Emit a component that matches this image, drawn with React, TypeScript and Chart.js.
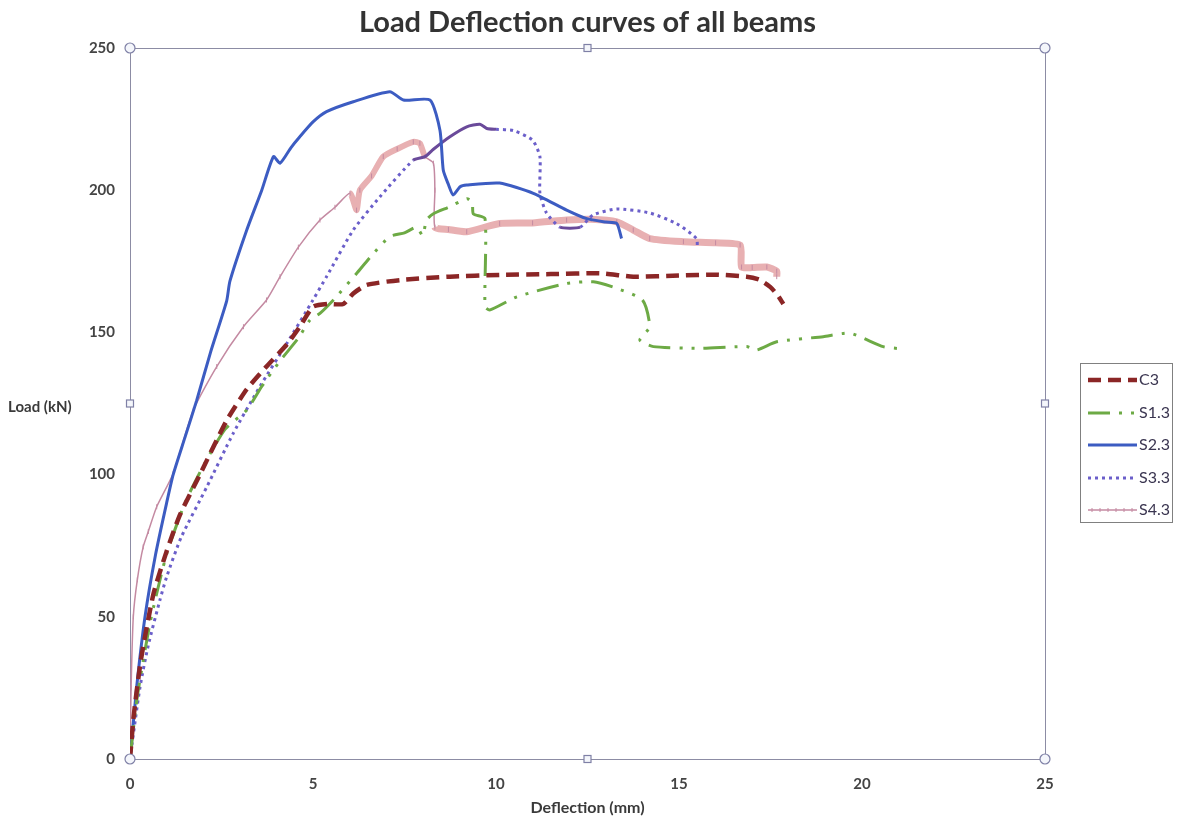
import React, { useEffect, useRef } from "react";
import { Chart, registerables } from "chart.js";

Chart.register(...registerables);

const C3_X = [0, 0.1, 0.3, 0.64, 1.0, 1.37, 1.91, 2.64, 3.19, 3.73, 4.3, 4.64, 5.0, 5.4, 5.83, 6.1, 6.47, 7.38, 8.74, 10.1, 11.5, 12.84, 13.75, 15.0, 16.0, 16.85, 17.2, 17.49, 17.7, 17.85];
const C3_Y = [0, 15, 35, 58, 73, 86, 100, 119, 130, 138, 146, 152, 159, 160, 160, 163.7, 166.7, 168.4, 169.6, 170.2, 170.5, 170.8, 169.6, 170, 170.3, 169.6, 168.5, 166, 163, 160];

const S13_X = [0, 0.2, 0.55, 1.0, 1.5, 2.0, 2.6, 3.19, 3.6, 4.1, 4.6, 4.92, 5.19, 5.6, 6.19, 6.6, 7.1, 7.5, 7.83, 8.0, 8.1, 8.29, 8.7, 9.2, 9.35, 9.38, 9.7, 9.7, 9.84, 10.57, 11.93, 12.66, 13.3, 14.0, 14.2, 13.93, 14.3, 15.57, 16.85, 17.12, 17.67, 18.94, 19.67, 20.58, 21.1];
const S13_Y = [0, 22, 48, 72, 90, 103, 116, 122.7, 131, 140, 148, 154.4, 156.7, 162, 170.7, 177, 183.7, 185, 187, 184, 189.5, 191.7, 194, 197, 196, 191.7, 190, 159, 157.9, 162.5, 167.2, 167.8, 165.5, 161.4, 152, 147.3, 145, 144.4, 145, 143.8, 146.7, 148.5, 149.7, 145, 144.2];

const S23_X = [0, 0.18, 0.41, 0.7, 1.0, 1.18, 1.5, 1.82, 2.2, 2.64, 2.73, 3.19, 3.6, 3.92, 4.1, 4.4, 4.64, 5.0, 5.37, 6.1, 7.1, 7.47, 8.2, 8.47, 8.56, 8.7, 8.83, 9.02, 9.2, 10.1, 11.02, 11.93, 12.48, 13.0, 13.3, 13.43];
const S23_Y = [0, 25, 50, 72, 90, 100, 113, 126, 143, 161, 168, 186, 200, 211.8, 209.5, 215, 218.8, 224, 227.6, 231.1, 234.6, 231.7, 231.7, 221, 207, 202, 198.3, 201.2, 201.8, 202.5, 198.9, 193, 190, 188.8, 188.3, 183];

const S33_X = [0, 0.27, 0.5, 0.82, 1.0, 1.4, 2.1, 2.82, 3.55, 4.28, 5.0, 5.37, 6.1, 6.83, 7.74, 8.06, 8.29, 8.74, 9.2, 9.56, 9.75, 10.0, 10.47, 11.0, 11.2, 11.2, 11.38, 11.75, 12.3, 12.65, 13.3, 14.2, 14.93, 15.48, 15.5];
const S33_Y = [0, 25, 40, 56, 64, 78, 95.7, 114.5, 131, 146, 161.4, 169.6, 186, 197.7, 210.6, 211.8, 214.4, 218.8, 222.3, 223.2, 221.7, 221.4, 221, 217.6, 211.8, 198.9, 192, 187, 187, 191.3, 193.4, 192, 188.3, 183, 180];

const S43_X = [0, 0.03, 0.09, 0.2, 0.36, 0.5, 0.73, 1.18, 1.73, 2.37, 3.1, 3.73, 4.1, 4.6, 5.19, 5.6, 6.01, 6.19, 6.28, 6.6, 6.92, 7.3, 7.74, 7.92, 8.06, 8.29, 8.33, 8.33, 8.7, 9.2, 10.1, 11.0, 11.93, 12.6, 13.3, 13.75, 14.2, 15.12, 16.0, 16.67, 16.71, 17.0, 17.4, 17.67, 17.67];
const S43_Y = [0, 25, 50, 63, 74.6, 80, 88.7, 100.4, 122.7, 138, 152, 161.4, 169.6, 180, 189.5, 194, 198.9, 193, 200, 205, 211.8, 214.5, 217, 216.5, 211.8, 209.5, 200, 187, 186.2, 185.4, 188.3, 188.5, 189.5, 189.8, 188.9, 186, 183, 181.9, 181.5, 180.7, 173, 172.8, 173, 171.5, 169.6];

const SERIES_NAMES = ["C3", "S1.3", "S2.3", "S3.3", "S4.3"];
const X_TICKS = [0, 5, 10, 15, 20, 25];
const Y_TICKS = [0, 50, 100, 150, 200, 250];

const TITLE = "Load Deflection curves of all beams";
const X_TITLE = "Deflection (mm)";
const Y_TITLE = "Load (kN)";

const FONT = "Lato, 'Open Sans', sans-serif";

const COLORS = {
  c3: "#8b2626",
  s13: "#6daa45",
  s23: "#3c5cc2",
  s33: "#6b5fca",
  s43thin: "#c48aa2",
  s43thick: "#e8b0b2",
};

const pts = (xs: number[], ys: number[]) => xs.map((x, i) => ({ x, y: ys[i] }));

const decorPlugin = {
  id: "decor",
  beforeDatasetsDraw(chart: any) {
    const { ctx, chartArea: a } = chart;
    ctx.save();
    ctx.strokeStyle = "#8c8ca4";
    ctx.lineWidth = 1;
    ctx.strokeRect(Math.round(a.left) + 0.5, Math.round(a.top) + 0.5, Math.round(a.right - a.left), Math.round(a.bottom - a.top));
    ctx.restore();
  },
  afterDraw(chart: any) {
    const { ctx, chartArea: a } = chart;
    ctx.save();
    const midX = (a.left + a.right) / 2;
    const midY = (a.top + a.bottom) / 2;
    ctx.strokeStyle = "#7f80a6";
    ctx.fillStyle = "#f4f6fb";
    ctx.lineWidth = 1.2;
    for (const [x, y] of [[a.left, a.top], [a.right, a.top], [a.left, a.bottom], [a.right, a.bottom]]) {
      ctx.beginPath();
      ctx.arc(x, y, 5, 0, Math.PI * 2);
      ctx.fill();
      ctx.stroke();
    }
    for (const [x, y] of [[midX, a.top], [midX, a.bottom], [a.left, midY], [a.right, midY]]) {
      ctx.fillRect(x - 3.5, y - 3.5, 7, 7);
      ctx.strokeRect(x - 3.5, y - 3.5, 7, 7);
    }
    ctx.fillStyle = "#333";
    ctx.textAlign = "center";
    ctx.textBaseline = "middle";
    ctx.font = `bold 29px ${FONT}`;
    ctx.fillText(TITLE, midX, 23);
    ctx.font = `bold 16px ${FONT}`;
    ctx.fillStyle = "#3a3a3a";
    ctx.fillText(X_TITLE, midX, 808);
    ctx.font = `bold 15px ${FONT}`;
    ctx.textAlign = "left";
    ctx.fillText(Y_TITLE, 8, 407);
    const lx = 1080, ly = 363, lw = 92, lh = 159;
    ctx.fillStyle = "#ffffff";
    ctx.fillRect(lx, ly, lw, lh);
    ctx.strokeStyle = "#808080";
    ctx.lineWidth = 1;
    ctx.strokeRect(lx + 0.5, ly + 0.5, lw, lh);
    const rows = [380, 413, 445, 478, 510];
    const ds = chart.data.datasets;
    rows.forEach((ry, i) => {
      const d = ds[i];
      ctx.save();
      ctx.beginPath();
      ctx.strokeStyle = i === 4 ? COLORS.s43thin : d.borderColor;
      ctx.lineWidth = i === 4 ? 1.5 : d.borderWidth;
      ctx.setLineDash(d.borderDash || []);
      ctx.moveTo(1088, ry);
      ctx.lineTo(1137, ry);
      ctx.stroke();
      if (i === 4) {
        ctx.setLineDash([]);
        ctx.lineWidth = 1;
        for (let k = 0; k < 6; k++) {
          const px = 1092 + k * 8;
          ctx.beginPath();
          ctx.moveTo(px, ry - 2);
          ctx.lineTo(px, ry + 2);
          ctx.stroke();
        }
      }
      ctx.restore();
      ctx.fillStyle = "#3a3550";
      ctx.font = `16px ${FONT}`;
      ctx.textAlign = "left";
      ctx.textBaseline = "middle";
      ctx.fillText(SERIES_NAMES[i], 1139, ry);
    });
    ctx.restore();
  },
};

export default function App() {
  const ref = useRef<HTMLCanvasElement | null>(null);
  useEffect(() => {
    if (!ref.current) return;
    const chart = new Chart(ref.current, {
      type: "line",
      data: {
        datasets: [
          {
            label: SERIES_NAMES[0],
            data: pts(C3_X, C3_Y),
            borderColor: COLORS.c3,
            borderWidth: 4.5,
            borderDash: [13, 7],
            pointRadius: 0,
            tension: 0.2,
          },
          {
            label: SERIES_NAMES[1],
            data: pts(S13_X, S13_Y),
            borderColor: COLORS.s13,
            borderWidth: 3,
            borderDash: [22, 9, 3, 9, 3, 9],
            pointRadius: 0,
            tension: 0.2,
          },
          {
            label: SERIES_NAMES[2],
            data: pts(S23_X, S23_Y),
            borderColor: COLORS.s23,
            borderWidth: 3,
            pointRadius: 0,
            tension: 0.2,
          },
          {
            label: SERIES_NAMES[3],
            data: pts(S33_X, S33_Y),
            borderColor: COLORS.s33,
            borderWidth: 3,
            borderDash: [3, 4],
            pointRadius: 0,
            tension: 0.2,
            segment: {
              borderDash: (c: any) => {
                const x0 = c.p0.parsed.x, x1 = c.p1.parsed.x;
                if ((x0 >= 7.7 && x1 <= 10.0) || (x0 >= 11.7 && x1 <= 12.35)) return [];
                return [3, 4];
              },
              borderColor: (c: any) => {
                const x0 = c.p0.parsed.x, x1 = c.p1.parsed.x;
                if ((x0 >= 7.7 && x1 <= 10.0) || (x0 >= 11.7 && x1 <= 12.35)) return "#6a4a9a";
                return COLORS.s33;
              },
            },
          },
          {
            label: SERIES_NAMES[4],
            data: pts(S43_X, S43_Y),
            borderColor: COLORS.s43thin,
            borderWidth: 1.5,
            pointRadius: 2.5,
            pointStyle: "line",
            pointRotation: 90,
            pointBorderColor: COLORS.s43thin,
            pointBorderWidth: 1,
            tension: 0.2,
            segment: {
              borderWidth: (c: any) => {
                const x0 = c.p0.parsed.x, x1 = c.p1.parsed.x;
                if (x0 >= 5.9 && x1 <= 8.07) return 6;
                if (x0 >= 8.33 && c.p0.parsed.y < 190) return 7;
                return 1.5;
              },
              borderColor: (c: any) => {
                const x0 = c.p0.parsed.x, x1 = c.p1.parsed.x;
                if (x0 >= 5.9 && x1 <= 8.07) return COLORS.s43thick;
                if (x0 >= 8.33 && c.p0.parsed.y < 190) return COLORS.s43thick;
                return COLORS.s43thin;
              },
            },
          },
        ],
      },
      options: {
        responsive: false,
        animation: false,
        layout: { padding: { left: 70, top: 48, right: 132, bottom: 0 } },
        plugins: { legend: { display: false }, title: { display: false }, tooltip: { enabled: false } },
        scales: {
          x: {
            type: "linear",
            min: 0,
            max: 25,
            afterFit: (s: any) => { s.height = 60; },
            afterBuildTicks: (s: any) => { s.ticks = X_TICKS.map((v) => ({ value: v })); },
            grid: { display: false, drawTicks: false },
            border: { display: false },
            ticks: { padding: 16, color: "#444", font: { family: FONT, size: 15, weight: "bold" }, maxRotation: 0 },
          },
          y: {
            type: "linear",
            min: 0,
            max: 250,
            afterFit: (s: any) => { s.width = 60; },
            afterBuildTicks: (s: any) => { s.ticks = Y_TICKS.map((v) => ({ value: v })); },
            grid: { display: false, drawTicks: false },
            border: { display: false },
            ticks: { padding: 15, color: "#444", font: { family: FONT, size: 15, weight: "bold" } },
          },
        },
      },
      plugins: [decorPlugin],
    });
    return () => chart.destroy();
  }, []);
  return (
    <div style={{ position: "absolute", left: 0, top: 0, width: 1177, height: 819, background: "#fff" }}>
      <canvas ref={ref} width={1177} height={819} />
    </div>
  );
}
